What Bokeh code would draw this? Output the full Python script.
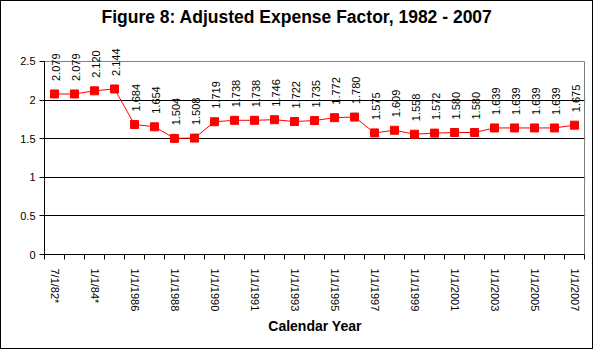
import math
from bokeh.plotting import figure
from bokeh.models import ColumnDataSource, FixedTicker, LabelSet, Range1d
from bokeh.core.properties import value
from bokeh.embed import file_html
from bokeh.resources import INLINE

categories = ["7/1/82*", "7/1/83*", "1/1/84*", "1/1/1985", "1/1/1986", "1/1/1987",
              "1/1/1988", "1/1/1989", "1/1/1990", "7/1/1990", "1/1/1991", "1/1/1992",
              "1/1/1993", "1/1/1994", "1/1/1995", "1/1/1996", "1/1/1997", "1/1/1998",
              "1/1/1999", "1/1/2000", "1/1/2001", "1/1/2002", "1/1/2003", "1/1/2004",
              "1/1/2005", "1/1/2006", "1/1/2007"]
values = [2.079, 2.079, 2.120, 2.144, 1.684, 1.654, 1.504, 1.508, 1.719, 1.738,
          1.738, 1.746, 1.722, 1.735, 1.772, 1.780, 1.575, 1.609, 1.558, 1.572,
          1.580, 1.580, 1.639, 1.639, 1.639, 1.639, 1.675]
y_ticks = [0, 0.5, 1, 1.5, 2, 2.5]
title_text = "Figure 8: Adjusted Expense Factor, 1982 - 2007"

FONT = "Liberation Sans"
n = len(categories)
xs = list(range(n))
src = ColumnDataSource(dict(x=xs, y=values, lab=["%.3f" % v for v in values]))

y_top = y_ticks[-1]
x_right = n - 0.5
y_extra = 0.44

p = figure(width=593, height=349, output_backend="svg", toolbar_location=None,
           x_range=Range1d(-0.5, x_right + 0.05), y_range=Range1d(0, y_top + y_extra),
           min_border_left=43, min_border_right=9, min_border_top=26, min_border_bottom=96,
           title=title_text, styles={"border": "1px solid black"})
p.title.align = "left"
p.title.text_font = FONT
p.title.text_font_size = "17.5px"
p.title.text_font_style = "bold"
p.title.text_color = "black"
p.title.standoff = 2
p.title.offset = 57

p.background_fill_color = "white"
p.border_fill_color = "white"
p.outline_line_color = None

# x axis
p.xaxis.ticker = FixedTicker(ticks=xs[::2], minor_ticks=[i - 0.5 for i in range(n + 1)])
p.xaxis.major_label_overrides = {i: categories[i] for i in xs[::2]}
p.xaxis.major_label_orientation = "vertical"
p.xaxis.major_tick_line_color = None
p.xaxis.minor_tick_line_color = "black"
p.xaxis.minor_tick_out = 5
p.xaxis.minor_tick_in = 0
p.xaxis.axis_line_color = "black"
p.xaxis.bounds = (-0.5, x_right)
p.xaxis.major_label_text_font = FONT
p.xaxis.major_label_text_font_size = "11px"
p.xaxis.major_label_text_color = "black"
p.xaxis.major_label_standoff = 8
p.xaxis.axis_label = "Calendar Year"
p.xaxis.axis_label_text_font = FONT
p.xaxis.axis_label_text_font_size = "14px"
p.xaxis.axis_label_text_font_style = "bold"
p.xaxis.axis_label_text_color = "black"
p.xaxis.axis_label_standoff = 4

# y axis
p.yaxis.ticker = FixedTicker(ticks=y_ticks)
p.yaxis.bounds = (0, y_top)
p.yaxis.major_label_overrides = {0: "0", 1: "1", 2: "2"}
p.yaxis.axis_line_color = "black"
p.yaxis.major_tick_line_color = "black"
p.yaxis.major_tick_out = 5
p.yaxis.major_tick_in = 0
p.yaxis.minor_tick_line_color = None
p.yaxis.major_label_text_font = FONT
p.yaxis.major_label_text_font_size = "11px"
p.yaxis.major_label_text_color = "black"
p.yaxis.major_label_standoff = 4

p.xgrid.grid_line_color = None
p.ygrid.ticker = FixedTicker(ticks=[v for v in y_ticks if 0 < v < y_top])
p.ygrid.grid_line_color = "black"
p.ygrid.grid_line_alpha = 1

# plot-area border (gray) on top and right
p.segment(x0=[-0.5, x_right], y0=[y_top, 0], x1=[x_right, x_right], y1=[y_top, y_top],
          line_color="#808080", line_width=1)

p.line("x", "y", source=src, line_color="#ff0000", line_width=1)
p.scatter("x", "y", source=src, marker="square", size=8, fill_color="#ff0000", line_color="#ff0000")

labels = LabelSet(x="x", y="y", text="lab", source=src, angle=math.pi / 2,
                  text_align="left", text_baseline="middle", x_offset=2, y_offset=13,
                  text_font=value(FONT), text_font_size="11px", text_color="black")
p.add_layout(labels)

open("out.html", "w").write(file_html(p, INLINE))
